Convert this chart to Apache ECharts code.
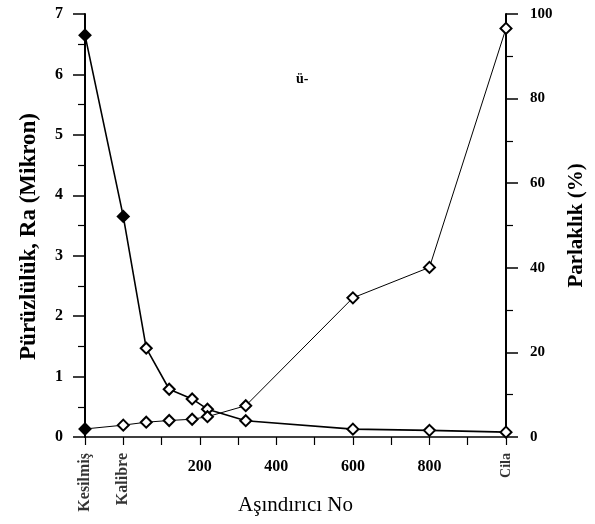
<!DOCTYPE html>
<html>
<head>
<meta charset="utf-8">
<script src="https://cdn.jsdelivr.net/npm/echarts@6/dist/echarts.min.js"></script>
<style>
  html, body { margin: 0; padding: 0; background: #fff; }
  #chart { width: 595px; height: 524px; }
</style>
</head>
<body>
<div id="chart"></div>
<script>
// Abrasive grit positions on the x scale (Kesilmiş / Kalibre / Cila are named stages)
const grit = [-100, 0, 60, 120, 180, 220, 320, 600, 800, 1000];
const stagePos = [-100, 0, 1000];
const stageNames = ['Kesilmiş', 'Kalibre', 'Cila'];
const gritTicks = [200, 400, 600, 800];

// Surface roughness Ra (micron), left axis
const roughness = [6.65, 3.65, 1.47, 0.79, 0.63, 0.46, 0.27, 0.13, 0.11, 0.08];
// Gloss (%), right axis
const gloss = [1.9, 2.8, 3.5, 3.9, 4.2, 4.8, 7.4, 32.9, 40.1, 96.6];

const serif = '"Liberation Serif", "DejaVu Serif", serif';

function pairs(xs, ys, filledCount) {
  return xs.map((x, i) => ({
    value: [x, ys[i]],
    itemStyle: i < filledCount ? { color: '#000' } : undefined
  }));
}

const chart = echarts.init(document.getElementById('chart'), null, { renderer: 'canvas' });

chart.setOption({
  animation: false,
  backgroundColor: '#fff',
  grid: { left: 85, right: 87, top: 14, bottom: 87, containLabel: false },
  xAxis: {
    type: 'value', min: -100, max: 1000, interval: 100, position: 'bottom',
    axisLine: { show: true, onZero: false, lineStyle: { color: '#000', width: 1.5 } },
    axisTick: { show: true, inside: false, length: 8, lineStyle: { color: '#000', width: 1.2 } },
    splitLine: { show: false },
    axisLabel: {
      margin: 22, color: '#000', fontFamily: serif, fontWeight: 'bold', fontSize: 16,
      formatter: v => gritTicks.indexOf(v) >= 0 ? String(v) : ''
    },
    name: 'Aşındırıcı No', nameLocation: 'middle', nameGap: 58,
    nameTextStyle: { color: '#000', fontFamily: serif, fontSize: 21 }
  },
  yAxis: [
    {
      type: 'value', min: 0, max: 7, interval: 1, position: 'left',
      axisLine: { show: true, onZero: false, lineStyle: { color: '#000', width: 2 } },
      axisTick: { show: true, inside: false, length: 12, lineStyle: { color: '#000', width: 1.5 } },
      minorTick: { show: true, splitNumber: 2, length: 7, lineStyle: { color: '#000', width: 1.2 } },
      splitLine: { show: false },
      axisLabel: { margin: 22, color: '#000', fontFamily: serif, fontWeight: 'bold', fontSize: 16 },
      name: 'Pürüzlülük, Ra (Mikron)', nameLocation: 'middle', nameGap: 44, nameRotate: 90,
      nameTextStyle: { color: '#000', fontFamily: serif, fontWeight: 'bold', fontSize: 23, padding: [0, 22, 0, 0] }
    },
    {
      type: 'value', min: 0, max: 100, interval: 20, position: 'right',
      axisLine: { show: true, onZero: false, lineStyle: { color: '#000', width: 2 } },
      axisTick: { show: true, inside: false, length: 12, lineStyle: { color: '#000', width: 1.5 } },
      minorTick: { show: true, splitNumber: 2, length: 7, lineStyle: { color: '#000', width: 1.2 } },
      splitLine: { show: false },
      axisLabel: { margin: 24, color: '#000', fontFamily: serif, fontWeight: 'bold', fontSize: 15 },
      name: 'Parlaklık (%)', nameLocation: 'middle', nameGap: 60, nameRotate: 90,
      nameTextStyle: { color: '#000', fontFamily: serif, fontWeight: 'bold', fontSize: 21 }
    }
  ],
  graphic: [
    {
      type: 'text', left: 296, top: 72,
      style: { text: 'ü-', fill: '#000', font: 'bold 14px ' + serif }
    }
  ],
  series: [
    {
      name: 'Ra', type: 'line', xAxisIndex: 0, yAxisIndex: 0,
      data: pairs(grit, roughness, 2),
      symbol: 'diamond', symbolSize: 11,
      lineStyle: { color: '#000', width: 1.6 },
      itemStyle: { color: '#fff', borderColor: '#000', borderWidth: 2 },
      z: 3
    },
    {
      name: 'Parlaklık', type: 'line', xAxisIndex: 0, yAxisIndex: 1,
      data: pairs(grit, gloss, 1),
      symbol: 'diamond', symbolSize: 11,
      lineStyle: { color: '#000', width: 1 },
      itemStyle: { color: '#fff', borderColor: '#000', borderWidth: 2 },
      z: 3
    },
    {
      // stage names written vertically under their x positions
      name: 'stages', type: 'scatter', xAxisIndex: 0, yAxisIndex: 0,
      data: stagePos.map((x, i) => ({
        value: [x, 0], name: stageNames[i],
        label: i === stageNames.length - 1 ? { fontSize: 14 } : undefined
      })),
      symbolSize: 0, silent: true, clip: false,
      label: {
        show: true, position: 'bottom', distance: 16, rotate: 90,
        align: 'right', verticalAlign: 'middle',
        formatter: p => p.name,
        color: '#000', fontFamily: serif, fontWeight: 'bold', fontSize: 16
      },
      z: 1
    }
  ]
});
</script>
</body>
</html>
